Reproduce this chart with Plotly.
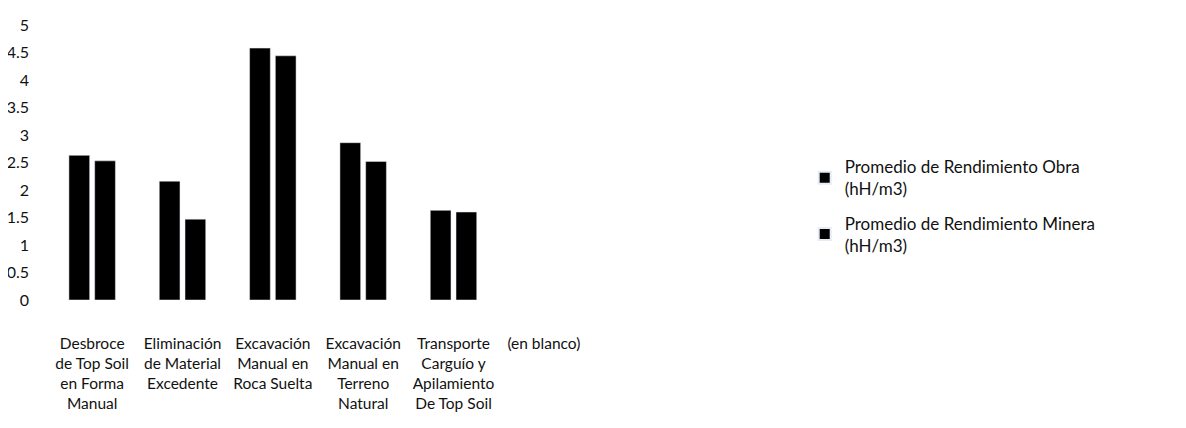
import plotly.graph_objects as go

categories = ["Desbroce<br>de Top Soil<br>en Forma<br>Manual",
              "Eliminación<br>de Material<br>Excedente",
              "Excavación<br>Manual en<br>Roca Suelta",
              "Excavación<br>Manual en<br>Terreno<br>Natural",
              "Transporte<br>Carguío y<br>Apilamiento<br>De Top Soil",
              "(en blanco)"]
obra = [2.63, 2.16, 4.58, 2.86, 1.63, None]
minera = [2.53, 1.47, 4.44, 2.52, 1.60, None]
series_names = ["Promedio de Rendimiento Obra<br>(hH/m3)",
                "Promedio de Rendimiento Minera<br>(hH/m3)"]
y_ticks = [0, 0.5, 1, 1.5, 2, 2.5, 3, 3.5, 4, 4.5, 5]
y_tick_text = ["0", "0.5", "1", "1.5", "2", "2.5", "3", "3.5", "4", "4.5", "5"]

FONT = "Lato"
x_idx = list(range(len(categories)))

fig = go.Figure()
fig.add_trace(go.Bar(x=x_idx, y=obra, name=series_names[0], marker_color="#000000",
                     legendgroup="obra"))
fig.add_trace(go.Bar(x=x_idx, y=minera, name=series_names[1], marker_color="#000000",
                     legendgroup="minera"))

fig.update_layout(
    width=1170, height=412,
    paper_bgcolor="white", plot_bgcolor="white",
    margin=dict(l=39, r=589, t=17, b=120, autoexpand=False),
    barmode="group", bargap=0.43, bargroupgap=0.195,
    font=dict(family=FONT, size=16, color="#111111"),
    showlegend=True,
    legend=dict(x=1.398, y=0.341, xanchor="left", yanchor="middle",
                font=dict(family=FONT, size=17, color="#111111"),
                tracegroupgap=9, itemsizing="constant"),
)
fig.update_xaxes(tickmode="array", tickvals=x_idx, ticktext=categories,
                 range=[-0.5, len(categories) - 0.5], automargin=False,
                 showgrid=False, showline=False, zeroline=False,
                 ticks="", ticklabelstandoff=32,
                 tickfont=dict(family=FONT, size=15.5, color="#111111"))
fig.update_yaxes(tickmode="array", tickvals=y_ticks, ticktext=y_tick_text,
                 range=[0, 5], automargin=False,
                 showgrid=False, showline=False, zeroline=False,
                 ticks="", ticklabelstandoff=17,
                 tickfont=dict(family=FONT, size=16, color="#111111"))

fig.write_html("out.html")
